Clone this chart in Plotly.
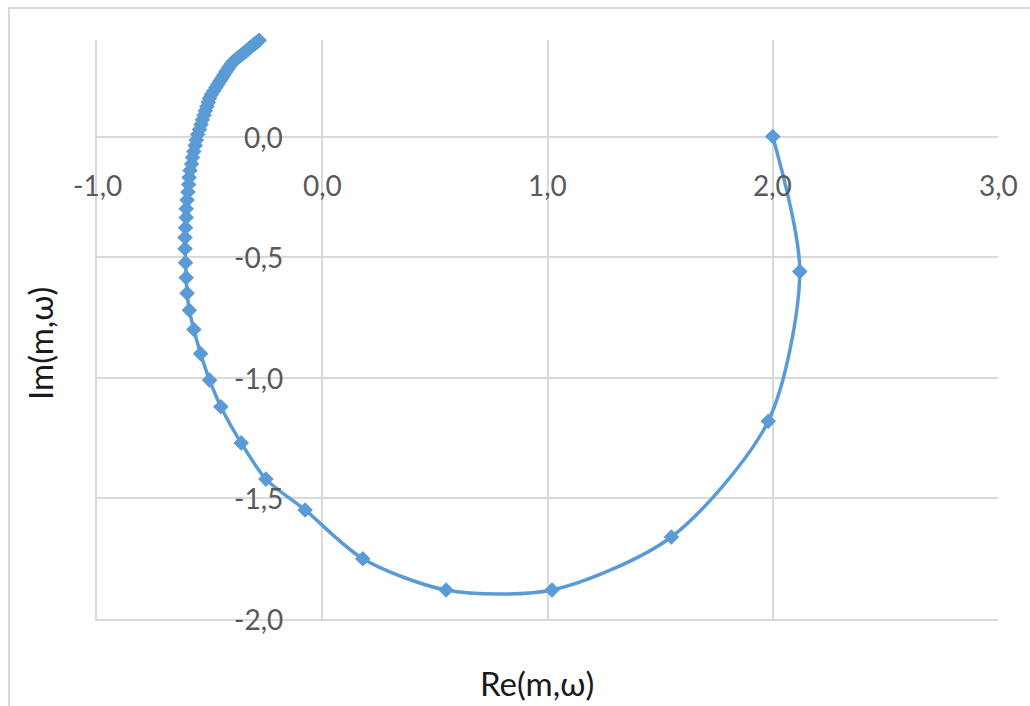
import plotly.graph_objects as go

# Nyquist-style curve values
re_vals = [2.00, 2.12, 1.98, 1.55, 1.02, 0.55, 0.18, -0.076, -0.25, -0.36, -0.45, -0.50, -0.54, -0.57,
           -0.59, -0.60, -0.604, -0.607, -0.609, -0.609, -0.607, -0.604, -0.604, -0.600, -0.596, -0.593,
           -0.591, -0.587, -0.580, -0.576, -0.570, -0.564, -0.559, -0.553, -0.545, -0.538, -0.532, -0.525,
           -0.519, -0.512, -0.506, -0.500, -0.492, -0.482, -0.472, -0.463, -0.454, -0.445, -0.436, -0.428,
           -0.420, -0.412, -0.404, -0.395, -0.383, -0.371, -0.360, -0.349, -0.338, -0.328, -0.318, -0.308,
           -0.298, -0.289, -0.280, -0.276]
im_vals = [0.00, -0.56, -1.18, -1.66, -1.88, -1.88, -1.75, -1.548, -1.42, -1.27, -1.12, -1.01, -0.90, -0.80,
           -0.72, -0.65, -0.585, -0.523, -0.465, -0.419, -0.378, -0.336, -0.299, -0.263, -0.230, -0.199,
           -0.170, -0.141, -0.114, -0.087, -0.062, -0.037, -0.015, 0.008, 0.029, 0.050, 0.069, 0.088,
           0.107, 0.124, 0.142, 0.159, 0.174, 0.189, 0.203, 0.217, 0.230, 0.243, 0.256, 0.268,
           0.279, 0.290, 0.301, 0.311, 0.320, 0.329, 0.338, 0.346, 0.354, 0.362, 0.370, 0.378,
           0.385, 0.392, 0.399, 0.402]

x_ticks = [-1.0, 0.0, 1.0, 2.0, 3.0]
x_tick_labels = ["-1,0", "0,0", "1,0", "2,0", "3,0"]
y_ticks = [0.0, -0.5, -1.0, -1.5, -2.0]
y_tick_labels = ["0,0", "-0,5", "-1,0", "-1,5", "-2,0"]

x_title = "Re(m,ω)"
y_title = "Im(m,ω)"

BLUE = "#5B9BD5"
GRID = "#D9D9D9"
TICK_COLOR = "#595959"
FONT = "Lato"

fig = go.Figure()
fig.add_trace(go.Scatter(
    x=re_vals, y=im_vals, mode="lines+markers",
    line=dict(color=BLUE, width=3.5, shape="spline", smoothing=0.8),
    marker=dict(symbol="diamond", size=12, color=BLUE, line=dict(width=0)),
    cliponaxis=False, showlegend=False, hoverinfo="x+y",
))

annotations = []
for v, t in zip(x_ticks, x_tick_labels):
    annotations.append(dict(x=v, y=0, xref="x", yref="y", text=t, showarrow=False,
                            xanchor="center", yanchor="middle", yshift=-48,
                            font=dict(family=FONT, size=28, color=TICK_COLOR)))
for v, t in zip(y_ticks, y_tick_labels):
    annotations.append(dict(x=0, y=v, xref="x", yref="y", text=t, showarrow=False,
                            xanchor="right", yanchor="middle", xshift=-37,
                            font=dict(family=FONT, size=28, color=TICK_COLOR)))
annotations.append(dict(x=0.488, y=-0.11, xref="paper", yref="paper", text=x_title,
                        showarrow=False, xanchor="center", yanchor="middle",
                        font=dict(family=FONT, size=33, color="#1A1A1A")))
annotations.append(dict(x=-0.0633, y=0.4767, xref="paper", yref="paper", text=y_title,
                        showarrow=False, xanchor="center", yanchor="middle", textangle=-90,
                        font=dict(family=FONT, size=33, color="#1A1A1A")))

fig.update_layout(
    width=1030, height=706, autosize=False,
    margin=dict(l=97, r=32, t=40, b=87, pad=0),
    paper_bgcolor="white", plot_bgcolor="white",
    font=dict(family=FONT, color=TICK_COLOR),
    annotations=annotations,
    shapes=[dict(type="rect", xref="paper", yref="paper",
                 x0=-0.0977, y0=-0.3, x1=1.2, y1=1.0553,
                 line=dict(color=GRID, width=2), fillcolor="rgba(0,0,0,0)", layer="below")],
    xaxis=dict(range=[-1, 3], tickvals=x_ticks, showticklabels=False, ticks="",
               showgrid=True, gridcolor=GRID, gridwidth=1.5,
               zeroline=True, zerolinecolor=GRID, zerolinewidth=1.5,
               showline=True, linecolor=GRID, linewidth=1.5, mirror=False, fixedrange=True),
    yaxis=dict(range=[-2, 0.4], tickvals=y_ticks, showticklabels=False, ticks="",
               showgrid=True, gridcolor=GRID, gridwidth=1.5,
               zeroline=True, zerolinecolor=GRID, zerolinewidth=1.5,
               showline=True, linecolor=GRID, linewidth=1.5, mirror=False, fixedrange=True),
)

fig.write_html("out.html", config={"displayModeBar": False},
               post_script="document.body.style.margin='0';document.body.style.padding='0';document.body.style.overflow='hidden';")
